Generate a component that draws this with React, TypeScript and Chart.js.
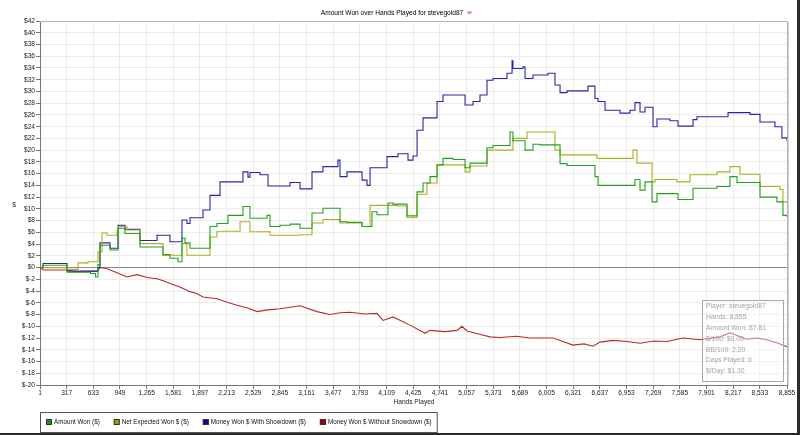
import React, { useEffect, useRef } from "react";
import { Chart, registerables } from "chart.js";

Chart.register(...registerables);

const titleText = "Amount Won over Hands Played for stevegold87";
const xAxisTitle = "Hands Played";
const yAxisTitle = "$";

const xTicks = [1, 317, 633, 949, 1265, 1581, 1897, 2213, 2529, 2845, 3161, 3477, 3793, 4109, 4425, 4741, 5057, 5373, 5689, 6005, 6321, 6637, 6953, 7269, 7585, 7901, 8217, 8533, 8855];
const yMin = -20;
const yMax = 42;
const yStep = 2;

const seriesLabels = ["Amount Won ($)", "Net Expected Won $ ($)", "Money Won $ With Showdown ($)", "Money Won $ Without Showdown ($)"];

const amountHands = [1, 37, 321, 600, 660, 688, 712, 831, 926, 1008, 1186, 1459, 1542, 1637, 1684, 1720, 1779, 2016, 2099, 2229, 2407, 2490, 2692, 2727, 2846, 2964, 3083, 3225, 3355, 3557, 3640, 3818, 3936, 3995, 4126, 4185, 4351, 4470, 4541, 4624, 4707, 4778, 4896, 5039, 5098, 5299, 5370, 5572, 5607, 5750, 5844, 5928, 6165, 6248, 6579, 6615, 7053, 7113, 7172, 7255, 7314, 7563, 7741, 8025, 8179, 8262, 8535, 8736, 8807, 8855];
const amountValues = [0, 0.4, -0.8, -1.0, -1.6, 0.5, 3.8, 3.0, 6.7, 5.8, 3.5, 2.2, 1.6, 1.0, 5.0, 4.2, 3.3, 7.0, 7.5, 8.9, 10.4, 8.4, 8.9, 7.0, 7.2, 7.4, 6.7, 9.3, 10.1, 7.8, 7.7, 7.0, 9.5, 9.0, 11.0, 10.8, 8.8, 12.9, 14.4, 15.5, 17.5, 18.6, 18.4, 17.0, 17.8, 20.4, 20.8, 23.1, 21.6, 20.0, 21.0, 20.9, 17.7, 17.4, 15.5, 14.0, 15.0, 13.2, 14.6, 11.2, 12.6, 11.6, 13.5, 13.8, 15.5, 14.5, 12.0, 11.2, 8.9, 8.6];

const expectedHands = [1, 321, 451, 570, 688, 736, 795, 914, 926, 1032, 1186, 1459, 1684, 1743, 2016, 2099, 2372, 2490, 2727, 3083, 3225, 3355, 3557, 3818, 3913, 4244, 4351, 4470, 4588, 4707, 5039, 5098, 5299, 5607, 5773, 6105, 6165, 6603, 7030, 7077, 7255, 7290, 7551, 7705, 8025, 8179, 8298, 8535, 8771, 8807, 8855];
const expectedValues = [0, -0.3, 0.8, 1.0, 2.7, 5.9, 5.5, 6.2, 7.0, 6.4, 4.1, 2.1, 4.1, 2.1, 5.2, 6.2, 7.8, 6.1, 5.5, 5.6, 7.6, 8.2, 7.6, 7.0, 10.6, 10.5, 8.5, 12.5, 14.4, 17.5, 16.3, 17.3, 20.0, 22.0, 23.1, 20.0, 19.2, 18.6, 20.0, 17.8, 14.6, 15.0, 14.6, 15.8, 16.3, 17.2, 15.9, 13.8, 13.3, 11.2, 11.0];

const showdownHands = [1, 37, 321, 688, 712, 831, 926, 1008, 1186, 1388, 1542, 1684, 1743, 1779, 1933, 2016, 2135, 2407, 2466, 2490, 2609, 2704, 2964, 3083, 3225, 3355, 3533, 3557, 3640, 3818, 3877, 3913, 4114, 4244, 4363, 4422, 4470, 4541, 4707, 4778, 5039, 5133, 5216, 5299, 5370, 5536, 5596, 5607, 5726, 5750, 5844, 6022, 6105, 6165, 6248, 6496, 6579, 6615, 6698, 6876, 6994, 7053, 7113, 7172, 7267, 7314, 7468, 7563, 7741, 7788, 8156, 8416, 8535, 8712, 8795, 8855];
const showdownValues = [0, 0.7, -0.6, 0, 4.2, 3.3, 7.2, 6.5, 4.6, 5.5, 4.4, 8.1, 7.5, 8.5, 9.8, 12.3, 14.6, 16.3, 15.4, 16.2, 15.8, 13.9, 14.5, 13.4, 16.3, 17.2, 18.3, 15.5, 16.3, 14.9, 14.0, 17.0, 18.9, 19.4, 18.3, 19.0, 23.4, 25.5, 28.3, 29.4, 27.7, 28.3, 29.4, 31.9, 32.2, 33.1, 35.2, 33.9, 34.2, 32.2, 32.8, 33.1, 31.1, 29.8, 30.1, 30.9, 28.8, 28.3, 26.8, 26.3, 26.8, 28.1, 26.5, 27.3, 24.0, 25.3, 25.0, 24.1, 25.2, 25.7, 26.4, 26.1, 24.8, 24.0, 22.1, 21.6];

const noShowdownHands = [1, 37, 321, 440, 677, 712, 795, 900, 1032, 1151, 1270, 1388, 1470, 1542, 1660, 1779, 1860, 1933, 2099, 2220, 2336, 2460, 2573, 2700, 2846, 3083, 3284, 3438, 3560, 3675, 3850, 3995, 4066, 4185, 4387, 4565, 4624, 4800, 4944, 5003, 5062, 5200, 5335, 5453, 5650, 5809, 6082, 6200, 6318, 6450, 6555, 6639, 6793, 6958, 7113, 7280, 7433, 7622, 7824, 8061, 8179, 8381, 8500, 8618, 8750, 8855];
const noShowdownValues = [0, -0.4, -0.4, -0.7, -0.6, 0, -0.2, -0.8, -1.6, -1.2, -1.7, -1.9, -2.3, -2.7, -3.3, -4.1, -4.4, -5.0, -5.3, -5.9, -6.4, -6.9, -7.5, -7.2, -7.0, -6.5, -7.5, -8.0, -7.7, -7.6, -7.9, -7.8, -9.0, -8.4, -9.8, -11.2, -10.7, -10.9, -10.7, -10.0, -10.8, -11.3, -11.8, -11.9, -11.7, -12.0, -12.0, -12.6, -13.2, -13.0, -13.4, -12.7, -12.4, -12.6, -12.9, -12.5, -12.6, -12.0, -12.3, -11.8, -11.1, -12.2, -12.0, -12.3, -12.9, -13.5];

const seriesColors = ["#22a022", "#b0ae1c", "#2727a3", "#b92a2a"];
const legendSwatch = ["#0a9a0a", "#9c9a05", "#06068e", "#9a0606"];

const infoLines = ["Player: stevegold87", "Hands: 8,855", "Amount Won: $7.81", "$/100: $0.09", "BB/100: 2.20", "Days Played: 6", "$/Day: $1.30"];

const FONT = "'Liberation Sans', Arial, sans-serif";

function pts(hands: number[], values: number[]) {
  return hands.map((h, i) => ({ x: h, y: values[i] }));
}

const decorPlugin = {
  id: "decor",
  beforeDraw(chart: any) {
    const ctx = chart.ctx;
    ctx.save();
    ctx.fillStyle = "#ffffff";
    ctx.fillRect(0, 0, chart.width, chart.height);
    ctx.restore();
  },
  afterDatasetsDraw(chart: any) {
    const ctx = chart.ctx;
    const a = chart.chartArea;
    ctx.save();
    // plot frame
    ctx.strokeStyle = "#b4b4b4";
    ctx.lineWidth = 1;
    ctx.beginPath();
    ctx.moveTo(a.left, a.top + 0.5);
    ctx.lineTo(a.right + 0.5, a.top + 0.5);
    ctx.lineTo(a.right + 0.5, a.bottom);
    ctx.stroke();
    ctx.strokeStyle = "#d0d0d0";
    ctx.beginPath();
    ctx.moveTo(a.right + 1.5, a.top + 1);
    ctx.lineTo(a.right + 1.5, a.bottom);
    ctx.stroke();

    // info box
    const bx = 702, by = 300, bw = 81, bh = 81;
    ctx.fillStyle = "rgba(255,255,255,0.35)";
    ctx.fillRect(bx, by, bw, bh);
    ctx.strokeStyle = "#a8a8a8";
    ctx.strokeRect(bx + 0.5, by + 0.5, bw, bh);
    ctx.fillStyle = "#a4a4a4";
    ctx.font = "6.8px " + FONT;
    ctx.textAlign = "left";
    ctx.textBaseline = "middle";
    infoLines.forEach((t, i) => {
      ctx.fillText(t, bx + 4, by + 6.5 + i * 10.8);
    });

    // title
    ctx.fillStyle = "#000";
    ctx.font = "6.6px " + FONT;
    ctx.textAlign = "center";
    ctx.fillText(titleText, 392, 13);
    ctx.fillStyle = "#e6709a";
    ctx.beginPath();
    ctx.moveTo(466.5, 11.5);
    ctx.lineTo(472.5, 11.5);
    ctx.lineTo(469.5, 14.5);
    ctx.closePath();
    ctx.fill();

    // axis titles
    ctx.fillStyle = "#222";
    ctx.font = "6.6px " + FONT;
    ctx.fillText(xAxisTitle, 414, 402);
    ctx.fillText(yAxisTitle, 14, 205);

    // legend
    ctx.font = "6.3px " + FONT;
    ctx.textAlign = "left";
    const lx = 40, ly = 412, lh = 20;
    let x = lx + 6;
    const positions: number[] = [];
    seriesLabels.forEach((lab) => {
      positions.push(x);
      x += 8 + ctx.measureText(lab).width + 14;
    });
    const lw = x - 14 + 5 - lx;
    ctx.fillStyle = "#fff";
    ctx.fillRect(lx, ly, lw, lh);
    ctx.strokeStyle = "#555";
    ctx.strokeRect(lx + 0.5, ly + 0.5, lw, lh);
    seriesLabels.forEach((lab, i) => {
      const px = positions[i];
      ctx.fillStyle = legendSwatch[i];
      ctx.fillRect(px, ly + 7, 6, 6);
      ctx.strokeStyle = "#333";
      ctx.strokeRect(px + 0.5, ly + 7.5, 5, 5);
      ctx.fillStyle = "#111";
      ctx.fillText(lab, px + 8, ly + 10.5);
    });

    // image shadow edges
    ctx.fillStyle = "#2a2a2a";
    ctx.fillRect(797, 0, 3, chart.height);
    ctx.fillRect(0, 433, chart.width, 2);
    ctx.restore();
  },
};

export default function App() {
  const ref = useRef<HTMLCanvasElement | null>(null);
  useEffect(() => {
    if (!ref.current) return;
    const tickFont = { family: FONT, size: 6.6 };
    const chart = new Chart(ref.current, {
      type: "line",
      data: {
        datasets: [
          { label: seriesLabels[0], data: pts(amountHands, amountValues), borderColor: seriesColors[0], borderWidth: 1.1, pointRadius: 0, stepped: true, fill: false },
          { label: seriesLabels[1], data: pts(expectedHands, expectedValues), borderColor: seriesColors[1], borderWidth: 1.1, pointRadius: 0, stepped: true, fill: false },
          { label: seriesLabels[2], data: pts(showdownHands, showdownValues), borderColor: seriesColors[2], borderWidth: 1.1, pointRadius: 0, stepped: true, fill: false },
          { label: seriesLabels[3], data: pts(noShowdownHands, noShowdownValues), borderColor: seriesColors[3], borderWidth: 1.1, pointRadius: 0, fill: false, tension: 0 },
        ],
      },
      options: {
        responsive: false,
        animation: false,
        devicePixelRatio: 1,
        layout: { padding: { top: 21, right: 13, left: 0, bottom: 0 } },
        plugins: {
          legend: { display: false },
          tooltip: { enabled: false },
          title: { display: false },
        },
        scales: {
          x: {
            type: "linear",
            min: 1,
            max: 8855,
            afterBuildTicks: (s: any) => {
              s.ticks = xTicks.map((v) => ({ value: v }));
            },
            afterFit: (s: any) => {
              s.height = 50;
            },
            ticks: {
              autoSkip: false,
              maxRotation: 0,
              padding: 0,
              color: "#222",
              font: tickFont,
              callback: (v: any) => Number(v).toLocaleString("en-US"),
            },
            grid: { color: "#ececec", tickLength: 4, tickColor: "#777", lineWidth: 1 },
            border: { color: "#777" },
          },
          y: {
            min: yMin,
            max: yMax,
            afterBuildTicks: (s: any) => {
              const t: any[] = [];
              for (let v = yMin; v <= yMax; v += yStep) t.push({ value: v });
              s.ticks = t;
            },
            afterFit: (s: any) => {
              s.width = 40;
            },
            ticks: {
              autoSkip: false,
              padding: 1,
              color: "#222",
              font: tickFont,
              callback: (v: any) => "$" + v,
            },
            grid: {
              color: (c: any) => (c.tick && c.tick.value === 0 ? "#8a8a8a" : "#ececec"),
              tickLength: 4,
              tickColor: "#777",
              lineWidth: 1,
            },
            border: { color: "#777" },
          },
        },
      },
      plugins: [decorPlugin],
    } as any);
    return () => chart.destroy();
  }, []);
  return (
    <div style={{ position: "absolute", left: 0, top: 0, width: 800, height: 435, background: "#fff" }}>
      <canvas ref={ref} width={800} height={435} style={{ display: "block", width: 800, height: 435 }} />
    </div>
  );
}
